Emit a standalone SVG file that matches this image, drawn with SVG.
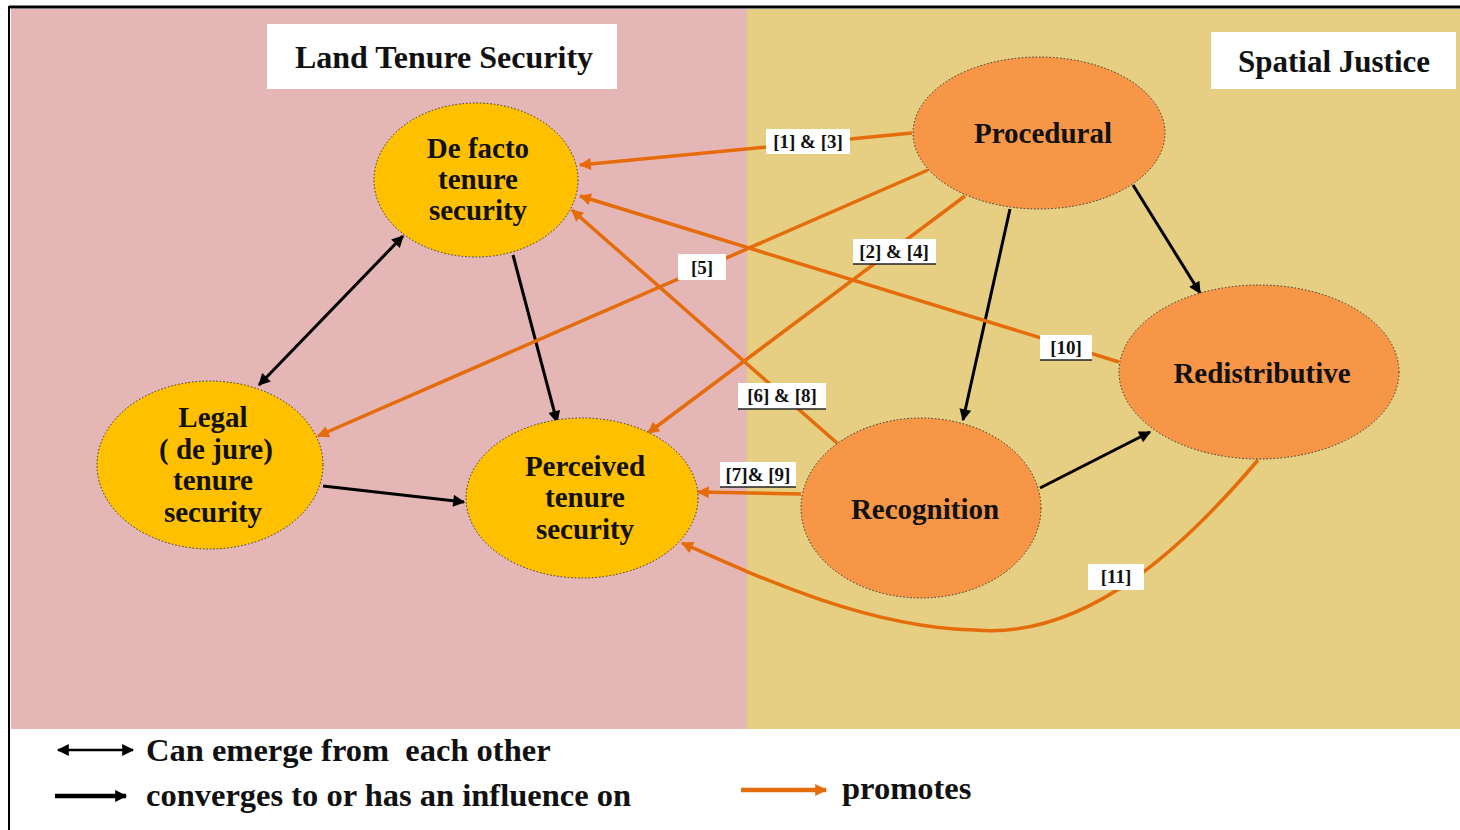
<svg xmlns="http://www.w3.org/2000/svg" width="1460" height="830" viewBox="0 0 1460 830">
<style>
.t{font-family:"Liberation Serif","Times New Roman",serif;font-weight:bold;fill:#111;text-anchor:middle}
.nt{font-size:29px}
.lb{font-size:19px}
.lg{font-size:32.5px;text-anchor:start}
.y{fill:#FFC000;stroke:#333;stroke-width:1;stroke-dasharray:1.5 2}
.o{fill:#F79646;stroke:#333;stroke-width:1;stroke-dasharray:1.5 2}
.bk{stroke:#000;stroke-width:3;fill:none}
.or{stroke:#E46C0A;stroke-width:3.5;fill:none}
.box{fill:#fff}
.ul{stroke:#222;stroke-width:1.5}
</style>
<defs>
<marker id="ab" viewBox="0 0 10 10" refX="9" refY="5" markerWidth="14" markerHeight="12" markerUnits="userSpaceOnUse" orient="auto-start-reverse"><path d="M0,0 L10,5 L0,10 z" fill="#000"/></marker>
<marker id="ao" viewBox="0 0 10 10" refX="9" refY="5" markerWidth="15" markerHeight="12" markerUnits="userSpaceOnUse" orient="auto"><path d="M0,0 L10,5 L0,10 z" fill="#E46C0A"/></marker>
</defs>
<rect width="1460" height="830" fill="#fff"/>
<g id="panels">
<rect x="11" y="9" width="736" height="720" fill="#E5B6B6"/>
<rect x="747" y="9" width="713" height="720" fill="#E6CE82"/>
<line x1="9" y1="7" x2="1460" y2="7" stroke="#000" stroke-width="3"/>
<line x1="9" y1="6" x2="9" y2="830" stroke="#000" stroke-width="2"/>
</g>
<g id="title-lts">
<rect x="267" y="24" width="350" height="65" fill="#fff"/>
<text class="t" x="444" y="68" font-size="32">Land Tenure Security</text>
</g>
<g id="title-sj">
<rect x="1211" y="32" width="245" height="57" fill="#fff"/>
<text class="t" x="1334" y="72" font-size="31">Spatial Justice</text>
</g>
<g id="connectors">
<path class="bk" d="M403,236 L259,385" marker-start="url(#ab)" marker-end="url(#ab)"/>
<path class="bk" d="M513,255 L557,422" marker-end="url(#ab)"/>
<path class="bk" d="M323,486 L464,502" marker-end="url(#ab)"/>
<path class="bk" d="M1010,209 L963,420" marker-end="url(#ab)"/>
<path class="bk" d="M1133,185 L1200,293" marker-end="url(#ab)"/>
<path class="bk" d="M1040,488 L1150,432" marker-end="url(#ab)"/>
<path class="or" d="M912,133 L580,165" marker-end="url(#ao)"/>
<path class="or" d="M928,170 L318,436" marker-end="url(#ao)"/>
<path class="or" d="M965,196 L648,433" marker-end="url(#ao)"/>
<path class="or" d="M1119,362 L580,196" marker-end="url(#ao)"/>
<path class="or" d="M837,443 L572,210" marker-end="url(#ao)"/>
<path class="or" d="M801,494 L698,492" marker-end="url(#ao)"/>
<path class="or" d="M1258,460 C1190,540 1090,640 975,630 C870,628 760,578 682,543" marker-end="url(#ao)"/>
<g id="labels">
<rect class="box" x="766" y="129" width="84" height="25"/>
<text class="t lb" x="808" y="148">[1] &amp; [3]</text>
<rect class="box" x="678" y="254" width="48" height="26"/>
<text class="t lb" x="702" y="274">[5]</text>
<rect class="box" x="853" y="239" width="83" height="25"/>
<line class="ul" x1="853" y1="264" x2="936" y2="264"/>
<text class="t lb" x="894" y="258">[2] &amp; [4]</text>
<rect class="box" x="1040" y="335" width="52" height="25"/>
<line class="ul" x1="1040" y1="360" x2="1092" y2="360"/>
<text class="t lb" x="1066" y="354">[10]</text>
<rect class="box" x="738" y="383" width="88" height="26"/>
<line class="ul" x1="738" y1="409" x2="826" y2="409"/>
<text class="t lb" x="782" y="402">[6] &amp; [8]</text>
<rect class="box" x="720" y="462" width="76" height="25"/>
<line class="ul" x1="720" y1="487" x2="796" y2="487"/>
<text class="t lb" x="758" y="481">[7]&amp; [9]</text>
<rect class="box" x="1088" y="564" width="56" height="26"/>
<text class="t lb" x="1116" y="583">[11]</text>
</g>
</g>
<g id="node-defacto">
<ellipse class="y" cx="476" cy="180" rx="102" ry="77"/>
<text class="t nt" x="478" y="158">De facto</text>
<text class="t nt" x="478" y="189">tenure</text>
<text class="t nt" x="478" y="220">security</text>
</g>
<g id="node-legal">
<ellipse class="y" cx="210" cy="465" rx="113" ry="84"/>
<text class="t nt" x="213" y="427">Legal</text>
<text class="t nt" x="216" y="459">( de jure)</text>
<text class="t nt" x="213" y="490">tenure</text>
<text class="t nt" x="213" y="522">security</text>
</g>
<g id="node-perceived">
<ellipse class="y" cx="582" cy="498" rx="116" ry="80"/>
<text class="t nt" x="585" y="476">Perceived</text>
<text class="t nt" x="585" y="507">tenure</text>
<text class="t nt" x="585" y="539">security</text>
</g>
<g id="node-procedural">
<ellipse class="o" cx="1039" cy="133" rx="126" ry="76"/>
<text class="t nt" x="1043" y="143">Procedural</text>
</g>
<g id="node-redistributive">
<ellipse class="o" cx="1259" cy="372" rx="140" ry="87"/>
<text class="t nt" x="1262" y="383">Redistributive</text>
</g>
<g id="node-recognition">
<ellipse class="o" cx="921" cy="508" rx="120" ry="90"/>
<text class="t nt" x="925" y="519">Recognition</text>
</g>
<g id="legend">
<path d="M58,750 L133,750" stroke="#000" stroke-width="2.5" marker-start="url(#ab)" marker-end="url(#ab)"/>
<text class="t lg" x="146" y="761" xml:space="preserve">Can emerge from  each other</text>
<path d="M55,796 L126,796" stroke="#000" stroke-width="4.5" marker-end="url(#ab)"/>
<text class="t lg" x="146" y="806">converges to or has an influence on</text>
<path d="M741,790 L826,790" stroke="#E46C0A" stroke-width="4.5" marker-end="url(#ao)"/>
<text class="t lg" x="842" y="799">promotes</text>
</g>
</svg>
